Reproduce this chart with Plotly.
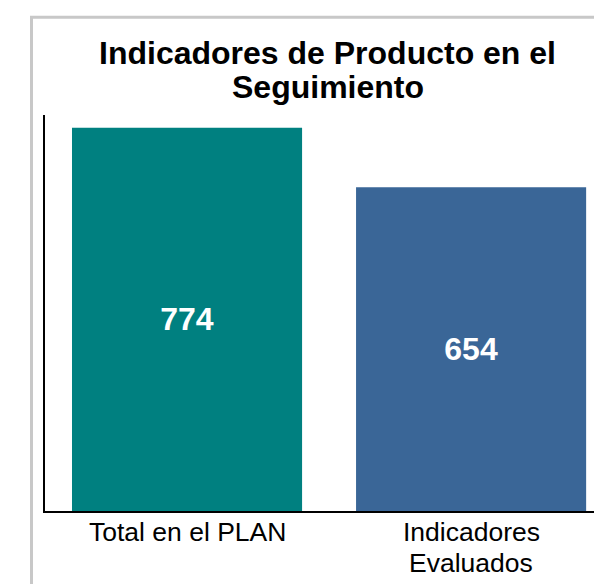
import plotly.graph_objects as go

categories = ["Total en el PLAN", "Indicadores<br>Evaluados"]
values = [774, 654]
bar_colors = ["#008080", "#3A6697"]
title_lines = ["Indicadores de Producto en el", "Seguimiento"]

W, H = 602, 584
L, R, T, B = 37, 0, 107, 81
pw, ph = W - L - R, H - T - B
FONT = "Arial, Liberation Sans"

def px_x(x):
    return (x - L) / pw

def px_y(y):
    return 1 + (T - y) / ph

fig = go.Figure(go.Bar(
    x=[0, 1], y=values,
    marker=dict(color=bar_colors, line=dict(width=0)),
    text=[str(v) for v in values],
    textposition="inside",
    insidetextanchor="middle",
    textfont=dict(family=FONT, size=32, color="white", weight="bold"),
    width=0.81,
    hoverinfo="skip",
))

annotations = []
# title, one annotation per line
for yy, line in zip([45, 79], title_lines):
    annotations.append(dict(
        text=f"<b>{line}</b>", xref="paper", yref="paper",
        x=0.5, y=px_y(yy), xanchor="center", yanchor="middle",
        showarrow=False,
        font=dict(family=FONT, size=32, color="black"),
    ))
# category labels, one annotation per line
for i, cat in enumerate(categories):
    for j, part in enumerate(cat.split("<br>")):
        annotations.append(dict(
            text=part, xref="x", yref="paper",
            x=i, y=px_y(524 + 31 * j), xanchor="center", yanchor="middle",
            showarrow=False,
            font=dict(family=FONT, size=26.5, color="black"),
        ))

fig.update_layout(
    width=W, height=H,
    margin=dict(l=L, r=R, t=T, b=B, pad=0),
    paper_bgcolor="white", plot_bgcolor="white",
    showlegend=False,
    annotations=annotations,
    font=dict(family=FONT, color="black"),
    xaxis=dict(
        range=[-0.5, 1.489], tickmode="array", tickvals=[0, 1],
        showticklabels=False,
        showline=True, linecolor="black", linewidth=1.5, showgrid=False, zeroline=False,
        ticks="", fixedrange=True,
    ),
    yaxis=dict(
        range=[0, 800], showline=True, linecolor="black", linewidth=1.5,
        showgrid=False, zeroline=False, showticklabels=False, ticks="", fixedrange=True,
    ),
    shapes=[dict(
        type="rect", xref="paper", yref="paper",
        x0=px_x(23.5), x1=px_x(700), y0=px_y(9.3), y1=px_y(700),
        line=dict(color="#C8C8C8", width=3), fillcolor="rgba(0,0,0,0)", layer="below",
    )],
)

fig.write_html("out.html", config={"displayModeBar": False})
